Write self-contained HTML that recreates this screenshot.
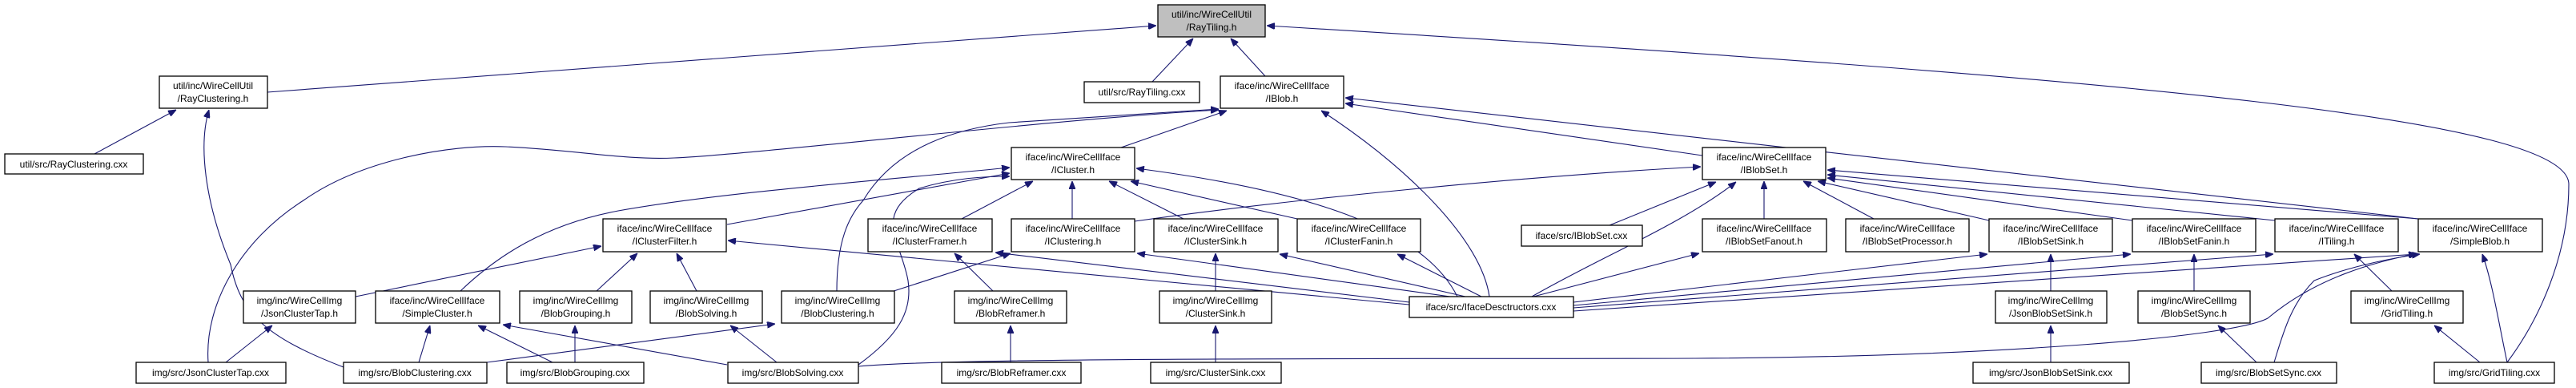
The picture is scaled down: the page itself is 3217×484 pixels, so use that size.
<!DOCTYPE html>
<html><head><meta charset="utf-8"><style>
html,body{margin:0;padding:0;background:#fff;}
svg{display:block;}
text{font-family:"Liberation Sans",sans-serif;font-size:12px;fill:#000;}
.b{fill:#fff;stroke:#000;stroke-width:1.3;}
.e{fill:none;stroke:#191970;stroke-width:1.1;marker-end:url(#a);}
</style></head><body>
<svg width="3217" height="484" viewBox="0 0 3217 484" xmlns="http://www.w3.org/2000/svg">
<defs><marker id="a" viewBox="0 0 10 8" refX="10" refY="4" markerWidth="10" markerHeight="8" markerUnits="userSpaceOnUse" orient="auto"><path d="M0,0 L10,4 L0,8 z" fill="#191970" stroke="#191970"/></marker></defs>
<g>
<path class="e" d="M334,115 L1444,32"/>
<path class="e" d="M1439,102 L1490,48"/>
<path class="e" d="M1580,95 L1537,48"/>
<path class="e" d="M3131,452 C3170,400 3208,320 3208,230 C3208,150 2700,100 1582,32"/>
<path class="e" d="M118,192 L220,137"/>
<path class="e" d="M429,458 C330,420 300,390 288,330 C255,250 248,180 261,137"/>
<path class="e" d="M1400,184 L1532,138"/>
<path class="e" d="M2126,194 L1680,129"/>
<path class="e" d="M3020,273 L1680,122"/>
<path class="e" d="M1860,370 C1850,300 1760,210 1650,138"/>
<path class="e" d="M260,452 C255,380 300,300 379,250 C450,200 560,180 631,183 C720,187 780,200 842,197 C950,192 1300,150 1522,137"/>
<path class="e" d="M1045,363 C1045,300 1060,270 1078,250 C1120,180 1200,160 1260,153 L1522,136"/>
<path class="e" d="M575,363 C620,320 680,280 772,263 C900,240 1100,225 1261,209"/>
<path class="e" d="M908,280 L1261,216"/>
<path class="e" d="M1201,273 L1290,226"/>
<path class="e" d="M1339,273 L1339,226"/>
<path class="e" d="M1478,273 L1385,226"/>
<path class="e" d="M1620,273 L1412,226"/>
<path class="e" d="M1820,370 C1780,290 1650,240 1419,210"/>
<path class="e" d="M1072,455 C1120,420 1140,390 1134,350 C1125,300 1090,270 1148,235 C1190,222 1230,220 1261,220"/>
<path class="e" d="M1417,276 C1600,250 1900,220 2124,208"/>
<path class="e" d="M1072,457 C1200,445 1800,448 2117,447 C2500,445 2790,420 2832,397 C2900,340 2980,325 3018,316"/>
<path class="e" d="M2840,452 C2850,420 2860,380 2890,350 C2940,330 3000,320 3022,317"/>
<path class="e" d="M3131,452 C3120,400 3112,350 3100,317"/>
<path class="e" d="M3097,452 L3040,406"/>
<path class="e" d="M2818,452 L2770,406"/>
<path class="e" d="M2561,452 L2561,406"/>
<path class="e" d="M2987,363 L2940,317"/>
<path class="e" d="M2740,363 L2740,317"/>
<path class="e" d="M2561,363 L2561,317"/>
<path class="e" d="M3020,273 L2282,212"/>
<path class="e" d="M2841,275 L2282,218"/>
<path class="e" d="M2663,275 L2282,222"/>
<path class="e" d="M2484,275 L2270,226"/>
<path class="e" d="M2340,273 L2252,226"/>
<path class="e" d="M2203,273 L2203,226"/>
<path class="e" d="M2010,281 L2143,227"/>
<path class="e" d="M1913,370 C2000,320 2100,280 2168,227"/>
<path class="e" d="M1760,380 L909,300"/>
<path class="e" d="M1760,377 L1243,315"/>
<path class="e" d="M1811,370 L1420,316"/>
<path class="e" d="M1830,370 L1598,317"/>
<path class="e" d="M1850,370 L1745,317"/>
<path class="e" d="M1915,370 L2122,316"/>
<path class="e" d="M1965,377 L2482,317"/>
<path class="e" d="M1965,381 L2661,317"/>
<path class="e" d="M1965,384 L2839,317"/>
<path class="e" d="M1965,388 L3018,317"/>
<path class="e" d="M444,370 L751,307"/>
<path class="e" d="M745,363 L796,316"/>
<path class="e" d="M870,363 L845,316"/>
<path class="e" d="M1110,365 L1262,316"/>
<path class="e" d="M1240,363 L1192,316"/>
<path class="e" d="M1518,363 L1518,316"/>
<path class="e" d="M282,452 L340,406"/>
<path class="e" d="M523,452 L537,406"/>
<path class="e" d="M690,452 L597,406"/>
<path class="e" d="M718,452 L718,406"/>
<path class="e" d="M908,455 L628,405"/>
<path class="e" d="M970,452 L912,406"/>
<path class="e" d="M608,452 L968,404"/>
<path class="e" d="M1262,452 L1262,406"/>
<path class="e" d="M1518,452 L1518,406"/>
</g>
<g text-anchor="middle">
<rect x="1446" y="6" width="134" height="40" style="fill:#bfbfbf;stroke:#000;stroke-width:1.3"/><text x="1513" y="22">util/inc/WireCellUtil</text><text x="1513" y="38">/RayTiling.h</text>
<rect class="b" x="199" y="95" width="135" height="40"/><text x="266" y="111">util/inc/WireCellUtil</text><text x="266" y="127">/RayClustering.h</text>
<rect class="b" x="1354" y="102" width="144" height="26"/><text x="1426" y="119">util/src/RayTiling.cxx</text>
<rect class="b" x="1524" y="95" width="154" height="40"/><text x="1601" y="111">iface/inc/WireCellIface</text><text x="1601" y="127">/IBlob.h</text>
<rect class="b" x="6" y="192" width="173" height="25"/><text x="92" y="209">util/src/RayClustering.cxx</text>
<rect class="b" x="1263" y="184" width="154" height="40"/><text x="1340" y="200">iface/inc/WireCellIface</text><text x="1340" y="216">/ICluster.h</text>
<rect class="b" x="2126" y="184" width="154" height="40"/><text x="2203" y="200">iface/inc/WireCellIface</text><text x="2203" y="216">/IBlobSet.h</text>
<rect class="b" x="753" y="273" width="154" height="41"/><text x="830" y="289">iface/inc/WireCellIface</text><text x="830" y="305">/IClusterFilter.h</text>
<rect class="b" x="1084" y="273" width="155" height="41"/><text x="1161" y="289">iface/inc/WireCellIface</text><text x="1161" y="305">/IClusterFramer.h</text>
<rect class="b" x="1263" y="273" width="154" height="41"/><text x="1340" y="289">iface/inc/WireCellIface</text><text x="1340" y="305">/IClustering.h</text>
<rect class="b" x="1441" y="273" width="155" height="41"/><text x="1518" y="289">iface/inc/WireCellIface</text><text x="1518" y="305">/IClusterSink.h</text>
<rect class="b" x="1620" y="273" width="154" height="41"/><text x="1697" y="289">iface/inc/WireCellIface</text><text x="1697" y="305">/IClusterFanin.h</text>
<rect class="b" x="1900" y="281" width="151" height="26"/><text x="1975" y="298">iface/src/IBlobSet.cxx</text>
<rect class="b" x="2126" y="273" width="155" height="41"/><text x="2203" y="289">iface/inc/WireCellIface</text><text x="2203" y="305">/IBlobSetFanout.h</text>
<rect class="b" x="2305" y="273" width="154" height="41"/><text x="2382" y="289">iface/inc/WireCellIface</text><text x="2382" y="305">/IBlobSetProcessor.h</text>
<rect class="b" x="2484" y="273" width="154" height="41"/><text x="2561" y="289">iface/inc/WireCellIface</text><text x="2561" y="305">/IBlobSetSink.h</text>
<rect class="b" x="2663" y="273" width="154" height="41"/><text x="2740" y="289">iface/inc/WireCellIface</text><text x="2740" y="305">/IBlobSetFanin.h</text>
<rect class="b" x="2841" y="273" width="154" height="41"/><text x="2918" y="289">iface/inc/WireCellIface</text><text x="2918" y="305">/ITiling.h</text>
<rect class="b" x="3020" y="273" width="155" height="41"/><text x="3097" y="289">iface/inc/WireCellIface</text><text x="3097" y="305">/SimpleBlob.h</text>
<rect class="b" x="1760" y="370" width="205" height="26"/><text x="1862" y="387">iface/src/IfaceDesctructors.cxx</text>
<rect class="b" x="304" y="363" width="140" height="40"/><text x="374" y="379">img/inc/WireCellImg</text><text x="374" y="395">/JsonClusterTap.h</text>
<rect class="b" x="469" y="363" width="155" height="40"/><text x="546" y="379">iface/inc/WireCellIface</text><text x="546" y="395">/SimpleCluster.h</text>
<rect class="b" x="649" y="363" width="140" height="40"/><text x="719" y="379">img/inc/WireCellImg</text><text x="719" y="395">/BlobGrouping.h</text>
<rect class="b" x="812" y="363" width="140" height="40"/><text x="882" y="379">img/inc/WireCellImg</text><text x="882" y="395">/BlobSolving.h</text>
<rect class="b" x="976" y="363" width="141" height="40"/><text x="1046" y="379">img/inc/WireCellImg</text><text x="1046" y="395">/BlobClustering.h</text>
<rect class="b" x="1192" y="363" width="140" height="40"/><text x="1262" y="379">img/inc/WireCellImg</text><text x="1262" y="395">/BlobReframer.h</text>
<rect class="b" x="1448" y="363" width="140" height="40"/><text x="1518" y="379">img/inc/WireCellImg</text><text x="1518" y="395">/ClusterSink.h</text>
<rect class="b" x="2492" y="363" width="139" height="40"/><text x="2561" y="379">img/inc/WireCellImg</text><text x="2561" y="395">/JsonBlobSetSink.h</text>
<rect class="b" x="2670" y="363" width="140" height="40"/><text x="2740" y="379">img/inc/WireCellImg</text><text x="2740" y="395">/BlobSetSync.h</text>
<rect class="b" x="2936" y="363" width="140" height="40"/><text x="3006" y="379">img/inc/WireCellImg</text><text x="3006" y="395">/GridTiling.h</text>
<rect class="b" x="170" y="452" width="187" height="26"/><text x="263" y="469">img/src/JsonClusterTap.cxx</text>
<rect class="b" x="429" y="452" width="179" height="26"/><text x="518" y="469">img/src/BlobClustering.cxx</text>
<rect class="b" x="633" y="452" width="171" height="26"/><text x="718" y="469">img/src/BlobGrouping.cxx</text>
<rect class="b" x="909" y="452" width="163" height="26"/><text x="990" y="469">img/src/BlobSolving.cxx</text>
<rect class="b" x="1176" y="452" width="174" height="26"/><text x="1263" y="469">img/src/BlobReframer.cxx</text>
<rect class="b" x="1437" y="452" width="163" height="26"/><text x="1518" y="469">img/src/ClusterSink.cxx</text>
<rect class="b" x="2464" y="452" width="195" height="26"/><text x="2561" y="469">img/src/JsonBlobSetSink.cxx</text>
<rect class="b" x="2749" y="452" width="169" height="26"/><text x="2833" y="469">img/src/BlobSetSync.cxx</text>
<rect class="b" x="3040" y="452" width="150" height="26"/><text x="3115" y="469">img/src/GridTiling.cxx</text>
</g>
</svg>
</body></html>
